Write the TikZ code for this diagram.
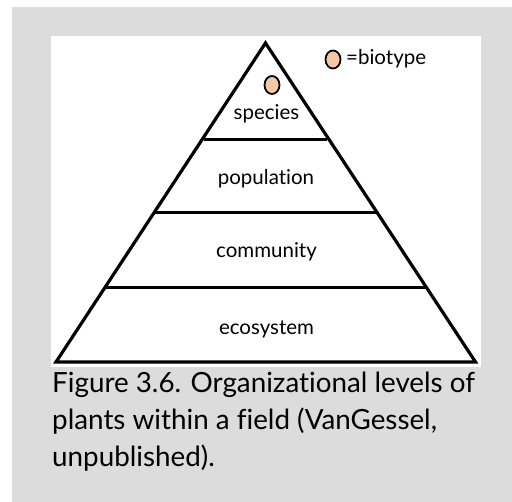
\documentclass[tikz,border=0pt]{standalone}
\usepackage{fontspec}
\setmainfont{Lato}[Ligatures={NoCommon}]
\usetikzlibrary{shapes.geometric}
\begin{document}
\begin{tikzpicture}[x=1pt,y=-1pt,
  edge/.style={line width=3.2pt,line join=miter},
  lvl/.style={font=\fontsize{20.5}{22}\selectfont,text=black,inner sep=0pt},
  bio/.style={draw=black,line width=1.8pt,fill=biofill,ellipse,minimum width=15pt,minimum height=18pt,inner sep=0pt},
  captext/.style={font=\fontsize{27.8}{37}\selectfont,anchor=base west,inner sep=0pt,text=black}]
\definecolor{bggray}{HTML}{DCDCDC}
\definecolor{biofill}{HTML}{F5C7A6}
\useasboundingbox (0,0) rectangle (512,502);
\fill[white] (0,0) rectangle (512,502);
\fill[bggray] (12,7) rectangle (512,502);
\fill[white] (51,36) rectangle (481,367);
\coordinate (apex) at (265.5,43);
\coordinate (bl) at (56,362);
\coordinate (br) at (475.5,362);
\draw[edge] (apex) -- (bl) -- (br) -- cycle;
\draw[edge] (204,139.5) -- (327,139.5);
\draw[edge] (155,212.5) -- (376,212.5);
\draw[edge] (106,287.5) -- (425,287.5);
\node[lvl] (species) at (266.5,114) {species};
\node[lvl] (population) at (266,179) {population};
\node[lvl] (community) at (266.5,252) {community};
\node[lvl] (ecosystem) at (266.5,329) {ecosystem};
\node[bio] (e1) at (272,85) {};
\node[bio] (e2) at (333,59.5) {};
\node[anchor=base west,inner sep=0pt,font=\fontsize{20.5}{22}\selectfont] (legend) at (346,65) {=biotype};
\node[captext] (c1) at (52,393) {Figure 3.6. Organizational levels of};
\node[captext] (c2) at (52,430) {plants within a field (VanGessel,};
\node[captext] (c3) at (52,467) {unpublished).};
\end{tikzpicture}
\end{document}
